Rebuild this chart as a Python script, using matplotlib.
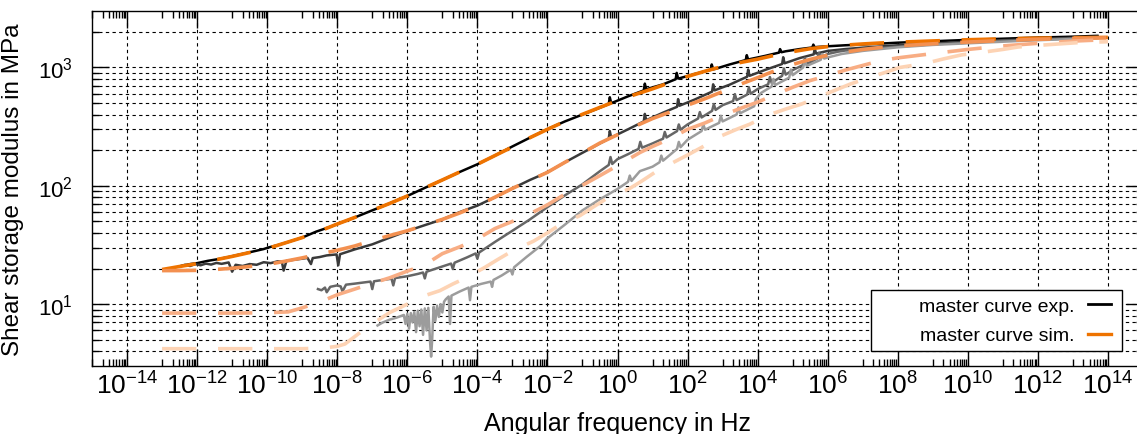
import numpy as np
import matplotlib
matplotlib.use("Agg")
import matplotlib.pyplot as plt
from matplotlib.lines import Line2D
from matplotlib.patches import Rectangle
from matplotlib.ticker import FixedLocator, NullFormatter, FixedFormatter

plt.rcParams['font.family'] = ['Liberation Sans', 'DejaVu Sans']
plt.rcParams['mathtext.fontset'] = 'custom'
plt.rcParams['mathtext.rm'] = 'Liberation Sans'
plt.rcParams['mathtext.it'] = 'Liberation Sans:italic'
plt.rcParams['mathtext.bf'] = 'Liberation Sans:bold'

# --- master curves, experiment (log10 of frequency, modulus in MPa) ---
exp1_logf = [-12.45, -12.2, -12.0, -11.7, -11.4, -11.1, -10.9, -10.6, -10.3, -10.1, -9.95, -9.7,
             -9.4, -9.2, -9.0, -8.6, -8.2, -8.0, -7.5, -7.0, -6.5, -6.0, -5.5, -5.0, -4.5, -4.0,
             -3.5, -3.0, -2.5, -2.0, -1.5, -1.0, -0.6, -0.25, -0.22, -0.18, -0.1, 0.3, 0.75, 0.78,
             0.82, 0.9, 1.3, 1.66, 1.69, 1.73, 1.8, 2.2, 2.66, 2.69, 2.73, 2.8, 3.2, 3.66, 3.69,
             3.73, 3.8, 4.2, 4.61, 4.64, 4.68, 4.8, 5.2, 5.56, 5.59, 5.63, 5.7, 6.0, 6.5, 7.0, 7.5,
             8.0, 9.0, 10.0, 11.0, 12.0, 13.0, 13.7]
exp1_G = [21.0, 21.8, 22.2, 23.2, 24.0, 25.0, 25.8, 27.0, 28.3, 29.2, 30.2, 31.5,
          33.5, 35.0, 36.5, 41, 45, 47.5, 54, 62, 71, 82, 96, 112, 131, 152,
          180, 215, 255, 301, 350, 400, 445, 490, 560, 500, 510, 570, 640, 730,
          655, 665, 720, 795, 900, 805, 815, 880, 955, 1060, 965, 975, 1060, 1155, 1270,
          1165, 1180, 1250, 1335, 1430, 1345, 1370, 1430, 1475, 1560, 1480, 1490, 1510, 1540, 1565, 1590,
          1620, 1665, 1710, 1750, 1790, 1820, 1850]

exp2_logf = [-12.5, -12.35, -12.2, -12.05, -11.9, -11.75, -11.6, -11.45, -11.3, -11.1, -11.0, -10.9,
             -10.7, -10.5, -10.3, -10.1, -9.9, -9.7, -9.58, -9.53, -9.45, -9.2, -9.0, -8.85, -8.75,
             -8.7, -8.5, -8.3, -8.02, -7.97, -7.92, -7.5, -7.0, -6.5, -6.0, -5.5, -5.0, -4.5, -4.0,
             -3.5, -3.0, -2.5, -2.0, -1.5, -1.0, -0.6, -0.25, -0.22, -0.18, 0.3, 0.75, 0.78, 0.82,
             1.3, 1.7, 1.73, 1.77, 2.2, 2.7, 2.73, 2.77, 3.2, 3.7, 3.73, 3.77, 4.2, 4.7, 4.73, 4.77,
             5.2, 5.6, 5.63, 5.67, 6.0, 6.5, 7.0, 8.0, 9.0, 10.0, 11.0, 12.0, 13.0, 13.7]
exp2_G = [20.8, 21.5, 21.0, 21.8, 21.3, 22.0, 21.6, 22.3, 21.9, 22.5, 18.8, 21.5,
          21.0, 21.8, 21.5, 22.6, 22.2, 23.0, 22.8, 19.2, 23.2, 23.8, 24.2, 24.6, 21.8,
          24.5, 25.0, 25.8, 26.3, 21.3, 26.4, 29, 32, 36.5, 41.5, 46.5, 52, 60, 68,
          80, 95, 112, 130, 158, 190, 220, 250, 290, 256, 300, 350, 405, 358,
          415, 465, 540, 475, 535, 625, 720, 640, 715, 835, 960, 850, 950, 1070, 1220, 1085,
          1200, 1290, 1440, 1310, 1380, 1430, 1470, 1540, 1590, 1650, 1700, 1740, 1780, 1820]

exp3_logf = [-8.55, -8.45, -8.35, -8.3, -8.2, -8.0, -7.9, -7.85, -7.75, -7.5, -7.2, -7.05, -7.0,
             -6.95, -6.7, -6.45, -6.4, -6.35, -6.0, -5.7, -5.55, -5.5, -5.45, -5.0, -4.75, -4.7,
             -4.65, -4.3, -4.05, -4.0, -3.95, -3.5, -3.0, -2.5, -2.0, -1.5, -1.0, -0.5, -0.25,
             -0.2, -0.15, 0.0, 0.3, 0.6, 0.65, 0.7, 1.0, 1.3, 1.35, 1.4, 1.7, 1.75, 1.8, 2.0,
             2.3, 2.35, 2.4, 2.7, 2.75, 2.8, 3.0, 3.3, 3.35, 3.4, 3.7, 3.75, 3.8, 4.0, 4.3, 4.35,
             4.4, 4.7, 4.75, 4.8, 5.0, 5.3, 5.35, 5.4, 5.7, 5.75, 5.8, 6.0, 6.3, 6.5, 7.0, 8.0,
             9.0, 10.0, 11.0, 12.0, 13.0, 13.7]
exp3_G = [13.4, 13.1, 13.8, 12.6, 14.0, 14.4, 14.1, 12.8, 14.6, 14.9, 15.3, 15.5, 13.4,
          15.6, 16.0, 16.4, 14.4, 16.6, 17.2, 18.0, 18.5, 16.5, 18.8, 20.8, 22.0, 19.8,
          22.4, 24.8, 26.8, 24.2, 27.3, 33.5, 41.7, 52, 66, 83, 103, 133, 150,
          175, 153, 168, 185, 205, 235, 210, 228, 250, 285, 256, 290, 330, 298, 330,
          370, 420, 378, 430, 490, 438, 480, 520, 595, 530, 590, 680, 600, 657, 720, 830,
          740, 850, 980, 870, 950, 1050, 1200, 1070, 1190, 1330, 1210, 1300, 1360, 1390, 1420, 1500,
          1570, 1620, 1680, 1720, 1760, 1790]

exp4_logf = [-6.85, -6.7, -6.5, -6.3, -6.15, -6.1, -6.05, -6.0, -5.95, -5.9, -5.85, -5.8, -5.75,
             -5.7, -5.65, -5.6, -5.55, -5.5, -5.45, -5.4, -5.35, -5.32, -5.29, -5.25, -5.2, -5.15,
             -5.1, -5.05, -5.0, -4.95, -4.9, -4.82, -4.78, -4.74, -4.5, -4.25, -4.21, -4.17, -3.9,
             -3.62, -3.58, -3.54, -3.3, -3.05, -3.0, -2.95, -2.6, -2.2, -2.0, -1.5, -1.0, -0.5,
             0.0, 0.3, 0.35, 0.4, 0.64, 1.0, 1.2, 1.25, 1.3, 1.7, 1.75, 1.8, 2.0, 2.4, 2.45, 2.5,
             2.9, 2.95, 3.0, 3.4, 3.45, 3.5, 3.9, 3.95, 4.1, 4.4, 4.45, 4.5, 4.9, 4.95, 5.0, 5.3,
             5.35, 5.4, 5.8, 5.85, 5.9, 6.0, 6.4, 7.0, 8.0, 9.0, 10.0, 11.0, 12.0, 13.0, 13.7]
exp4_G = [6.6, 7.0, 7.4, 7.7, 8.0, 8.1, 6.8, 8.3, 6.2, 8.4, 7.0, 8.6, 5.8,
          8.8, 6.5, 9.0, 5.5, 9.2, 6.0, 9.3, 4.8, 3.6, 5.0, 9.5, 7.2, 9.7,
          7.8, 10.0, 8.5, 10.5, 11.0, 11.6, 6.8, 11.8, 12.8, 13.8, 10.8, 14.0, 14.8,
          15.5, 14.0, 16.0, 17.5, 19.5, 17.8, 20.5, 25, 31, 36, 47, 62, 77,
          94, 108, 122, 110, 133, 145, 158, 180, 163, 205, 235, 212, 245, 290, 330, 298,
          340, 390, 350, 400, 460, 410, 470, 540, 610, 690, 800, 710, 820, 960, 860, 1000,
          1150, 1030, 1160, 1300, 1190, 1215, 1300, 1380, 1480, 1550, 1600, 1650, 1700, 1740, 1770]

# --- master curves, simulation ---
sim1_logf = [-13, -12.5, -12, -11.5, -11, -10.5, -10, -9.5, -9, -8.5, -8, -7.5, -7, -6.5, -6, -5.5,
             -5, -4.5, -4, -3.5, -3, -2.5, -2, -1.5, -1, -0.5, 0, 0.5, 1, 1.5, 2, 2.5, 3, 3.5, 4,
             4.5, 5, 5.5, 6, 6.5, 7, 7.5, 8, 9, 10, 11, 12, 13, 14]
sim1_G = [19.6, 20.8, 22.0, 23.6, 25.3, 27.3, 29.5, 32.8, 36.5, 41.5, 47.5, 54, 62, 71, 82, 96,
          112, 131, 152, 180, 213, 255, 300, 350, 402, 460, 525, 590, 660, 745, 840, 930, 1020, 1100, 1175,
          1270, 1360, 1440, 1500, 1545, 1580, 1610, 1635, 1675, 1715, 1745, 1770, 1785, 1795]

sim2_logf = [-13, -12.5, -12, -11.5, -11, -10.5, -10, -9.5, -9, -8.5, -8, -7.5, -7, -6.5, -6, -5.5,
             -5, -4.5, -4, -3.5, -3, -2.5, -2, -1.5, -1, -0.5, 0, 0.5, 1, 1.5, 2, 2.5, 3, 3.5, 4,
             4.5, 5, 5.5, 6, 6.5, 7, 7.5, 8, 9, 10, 11, 12, 13, 14]
sim2_G = [19.2, 19.2, 19.3, 19.6, 20.1, 20.8, 21.6, 23.0, 24.6, 26.5, 28.5, 31, 34.5, 38, 41.7, 46.5,
          52, 59, 68, 80, 95, 111, 130, 158, 190, 230, 270, 318, 370, 420, 480, 545, 625, 720, 820,
          940, 1060, 1170, 1270, 1350, 1420, 1475, 1520, 1585, 1640, 1690, 1730, 1760, 1780]

sim3_logf = [-13, -12, -11, -10, -9.4, -9, -8.5, -8, -7.5, -7, -6.5, -6, -5.5, -5, -4.5, -4, -3.5,
             -3, -2.5, -2, -1.5, -1, -0.5, 0, 0.64, 1, 1.5, 2, 2.5, 3, 3.5, 4, 4.5, 5, 5.5, 6, 6.5,
             7, 7.5, 8, 9, 10, 11, 12, 13, 14]
sim3_G = [8.4, 8.4, 8.4, 8.45, 8.6, 9.3, 10.4, 12.0, 13.4, 15.0, 16.7, 19.0, 21.5, 26.7, 30.5, 35.5, 43.5,
          50, 58, 69, 85, 101, 122, 148, 191, 215, 250, 300, 340, 395, 450, 510, 590, 680, 775, 855, 950,
          1040, 1140, 1205, 1310, 1420, 1520, 1600, 1670, 1720]

sim4_logf = [-13, -12, -11, -10, -9, -8.4, -8.0, -7.78, -7.4, -7.0, -6.5, -6.0, -5.5, -5.07, -4.7,
             -4.3, -3.78, -3.4, -2.97, -2.4, -2.0, -1.64, -1.07, -0.7, -0.31, 0.35, 0.7, 1.07, 1.6,
             2.0, 2.4, 2.92, 3.4, 3.78, 4.3, 4.8, 5.25, 5.78, 6.2, 6.64, 7.2, 7.6, 8.06, 8.77, 9.3,
             9.82, 10.39, 11.0, 11.44, 12.05, 12.6, 13.2, 14]
sim4_G = [4.2, 4.2, 4.2, 4.2, 4.2, 4.25, 4.4, 4.6, 5.6, 6.8, 8.5, 10.0, 11.8, 13.0, 14.8,
          16.8, 20.5, 24, 28.5, 34, 40, 47, 56, 66, 78, 95, 110, 130, 158,
          182, 211, 261, 300, 332, 396, 445, 490, 570, 640, 723, 824, 900, 1000, 1080, 1180,
          1277, 1340, 1420, 1490, 1540, 1580, 1625, 1650]

exp_curves = [(exp1_logf, exp1_G), (exp2_logf, exp2_G), (exp3_logf, exp3_G), (exp4_logf, exp4_G)]
sim_curves = [(sim1_logf, sim1_G), (sim2_logf, sim2_G), (sim3_logf, sim3_G), (sim4_logf, sim4_G)]
exp_colors = ['#000000', '#3a3a3a', '#666666', '#9c9c9c']
sim_colors = ['#ee7300', '#f39050', '#f8ad84', '#fdd3b4']

xtick_exp = list(range(-14, 15, 2))
xtick_labels = [r'$10^{%d}$' % e for e in xtick_exp]
ytick_exp = [1, 2, 3]
ytick_labels = [r'$10^{%d}$' % e for e in ytick_exp]
legend_labels = ['master curve exp.', 'master curve sim.']

W, H = 1137, 435
fig = plt.figure(figsize=(W / 100, H / 100), dpi=100)
# right frame edge sits just outside the picture, as in the original
ax = fig.add_axes([92 / W, 68 / H, 1051 / W, 355 / H])

for (lf, g), c in zip(exp_curves, exp_colors):
    ax.plot(10.0 ** np.array(lf), g, color=c, lw=1.8, zorder=3)
for (lf, g), c in zip(sim_curves, sim_colors):
    ax.plot(10.0 ** np.array(lf), g, color=c, lw=2.6, dashes=(9.5, 6),
            dash_capstyle='butt', zorder=4)

ax.set_xscale('log')
ax.set_yscale('log')
ax.set_xlim(1e-15, 1e15)
ax.set_ylim(3, 3000)

ax.xaxis.set_major_locator(FixedLocator([10.0 ** e for e in xtick_exp]))
ax.xaxis.set_major_formatter(FixedFormatter(xtick_labels))
ax.xaxis.set_minor_locator(FixedLocator([k * 10.0 ** n for n in range(-15, 15, 2) for k in range(1, 10)]))
ax.xaxis.set_minor_formatter(NullFormatter())
ax.yaxis.set_major_locator(FixedLocator([10.0 ** e for e in ytick_exp]))
ax.yaxis.set_major_formatter(FixedFormatter(ytick_labels))
ax.yaxis.set_minor_locator(FixedLocator([k * 10.0 ** n for n in range(0, 4) for k in range(2, 10)
                                         if 3 < k * 10.0 ** n < 3000]))
ax.yaxis.set_minor_formatter(NullFormatter())

ax.tick_params(which='both', direction='in', top=True, right=True, width=1.0, colors='black')
ax.tick_params(which='major', length=12.5)
ax.tick_params(which='minor', length=5)
ax.tick_params(axis='x', which='major', pad=4, labelsize=19)
ax.tick_params(axis='y', which='major', pad=14, labelsize=16)

gridkw = dict(color='black', lw=0.8, linestyle=(0, (3, 3)))
ax.grid(True, which='major', axis='x', **gridkw)
ax.grid(True, which='both', axis='y', **gridkw)
ax.set_axisbelow(True)
for s in ax.spines.values():
    s.set_linewidth(1.0)

ax.set_xlabel('Angular frequency in Hz', fontsize=18, labelpad=9)
ax.set_ylabel('Shear storage modulus in MPa', fontsize=17.5, labelpad=10)

# legend box (gnuplot style: text right aligned, sample on the right)
ax.add_patch(Rectangle((0.7412, 0.0423), 0.980 - 0.7412, 0.2141 - 0.0423, transform=ax.transAxes,
                       facecolor='white', edgecolor='black', lw=1.0, zorder=6))
handles = [Line2D([], [], color=exp_colors[0], lw=2.0), Line2D([], [], color=sim_colors[0], lw=2.4)]
leg = ax.legend(handles, legend_labels, loc='center right', bbox_to_anchor=(0.9696, 0.1268),
                frameon=False, markerfirst=False, fontsize=14, handlelength=1.2,
                handletextpad=0.7, labelspacing=0.6, borderpad=0, borderaxespad=0)
leg.set_zorder(7)

fig.savefig('out.png', dpi=100)
